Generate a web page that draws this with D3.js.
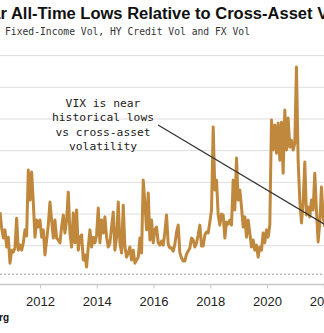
<!DOCTYPE html>
<html>
<head>
<meta charset="utf-8">
<script src="https://cdn.jsdelivr.net/npm/d3@7"></script>
<style>
  html, body { margin: 0; padding: 0; background: #ffffff; overflow: hidden; }
  svg { display: block; }
</style>
</head>
<body>
<script>
// ---------- data ----------
const titleText = "VIX Is Near All-Time Lows Relative to Cross-Asset Volatility";
const subtitleText = "Fixed-Income Vol, HY Credit Vol and FX Vol";
const sourceText = "Source: Bloomberg";
const annotationLines = ["VIX is near", "historical lows", "vs cross-asset", "volatility"];

const tickYears = [2012, 2014, 2016, 2018, 2020, 2022];
const gridValues = [1, 2, 3, 4, 5, 6, 7];
const lowLevel = 0.1;

// sampling of the series (fractional years, ~3-week steps)
const startYear = 2010.59;
const stepYears = 0.0587;

// ratio series
const values = [
  2.06, 1.56, 1.24, 1.50, 0.96, 1.27, 0.45, 0.86, 0.80, 0.93,
  1.87, 0.86, 1.02, 0.86, 1.09, 1.50, 1.31, 3.39, 2.44, 3.33,
  2.35, 1.27, 1.81, 1.59, 1.81, 1.27, 1.50, 0.71, 1.18, 1.65,
  2.38, 1.81, 1.24, 1.81, 1.24, 1.18, 1.09, 1.59, 1.97, 1.40,
  1.81, 2.69, 1.40, 0.96, 2.03, 1.09, 2.13, 0.86, 1.27, 1.34,
  0.55, 0.71, 0.33, 0.96, 1.50, 0.96, 1.27, 1.09, 1.34, 2.19,
  1.09, 1.81, 1.40, 1.91, 1.27, 0.96, 1.09, 1.59, 2.06, 0.86,
  1.27, 2.38, 1.09, 0.77, 2.28, 0.96, 0.64, 0.77, 0.96, 0.55,
  0.86, 0.45, 0.55, 0.64, 1.24, 0.77, 3.07, 2.35, 1.50, 2.66,
  1.18, 1.81, 1.09, 1.50, 1.59, 1.09, 1.02, 1.15, 1.02, 1.43,
  1.97, 1.05, 0.93, 0.93, 0.83, 1.05, 1.43, 1.65, 0.77, 0.61,
  0.52, 0.52, 0.74, 0.83, 0.93, 1.24, 1.18, 0.96, 1.09, 1.34,
  1.65, 0.99, 0.99, 1.34, 1.43, 1.40, 1.75, 2.13, 4.75, 2.76,
  3.07, 1.97, 1.65, 2.00, 1.97, 1.24, 1.75, 1.68, 1.81, 1.65,
  3.07, 2.13, 3.77, 2.44, 2.76, 2.22, 1.59, 1.91, 1.27, 1.81,
  1.40, 0.96, 1.18, 0.86, 1.02, 0.64, 0.96, 0.86, 1.40, 1.09,
  1.50, 1.27, 1.65, 4.97, 4.02, 4.81, 3.92, 4.87, 3.70, 4.90,
  3.29, 5.28, 4.02, 5.03, 4.11, 4.33, 4.02, 4.24, 6.64, 3.70,
  2.44, 1.72, 2.35, 3.64, 1.97, 2.22, 1.91, 2.44, 2.13, 3.29,
  2.13, 1.12, 1.72, 2.85, 1.91, 1.59
];
const dates = values.map((v, i) => startYear + i * stepYears);

// annotation pointer (year, value)
const pointerFrom = [2016.16, 4.81];
const pointerTo = [2022.25, 1.56];

// ---------- chart ----------
const W = 324, H = 333;
const svg = d3.select("body").append("svg").attr("width", W).attr("height", H);
svg.append("rect").attr("width", W).attr("height", H).attr("fill", "#fff");

const x = d3.scaleLinear().domain([2012, 2020]).range([40, 267]);
const y = d3.scaleLinear().domain([0, 7]).range([277.4, 55.6]);

// gridlines
svg.append("g").selectAll("line").data(gridValues).join("line")
  .attr("x1", 0).attr("x2", W)
  .attr("y1", d => y(d)).attr("y2", d => y(d))
  .attr("stroke", "#dedede").attr("stroke-width", 1);

// dotted low line
svg.append("line")
  .attr("x1", 0).attr("x2", W)
  .attr("y1", y(lowLevel)).attr("y2", y(lowLevel))
  .attr("stroke", "#9a9a9a").attr("stroke-width", 1)
  .attr("stroke-dasharray", "2,2");

// x axis
const xAxis = d3.axisBottom(x).tickValues(tickYears).tickFormat(d3.format("d")).tickSize(4).tickPadding(8);
const gx = svg.append("g").attr("transform", "translate(0,284.5)").call(xAxis);
gx.select(".domain").remove();
gx.append("line").attr("x1", 0).attr("x2", W).attr("stroke", "#c8c8c8").attr("stroke-width", 1.5);
gx.selectAll(".tick line").attr("stroke", "#c8c8c8");
gx.selectAll(".tick text")
  .attr("font-family", "Liberation Sans, Arial, sans-serif")
  .attr("font-size", 13).attr("fill", "#222");

// series
const line = d3.line().x((d, i) => x(dates[i])).y(d => y(d));
svg.append("path").datum(values)
  .attr("d", line)
  .attr("fill", "none")
  .attr("stroke", "#c0883d")
  .attr("stroke-width", 3)
  .attr("stroke-linejoin", "round");

// annotation pointer
svg.append("line")
  .attr("x1", x(pointerFrom[0])).attr("y1", y(pointerFrom[1]))
  .attr("x2", x(pointerTo[0])).attr("y2", y(pointerTo[1]))
  .attr("stroke", "#333").attr("stroke-width", 1.3);

// annotation text
const ann = svg.append("text")
  .attr("font-family", "DejaVu Sans Mono, monospace")
  .attr("font-size", 11.3).attr("fill", "#222")
  .attr("text-anchor", "middle");
ann.selectAll("tspan").data(annotationLines).join("tspan")
  .attr("x", 103).attr("y", (d, i) => 106.5 + i * 14.5)
  .text(d => d);

// title (left part is cropped off in the reference)
const title = svg.append("text")
  .attr("font-family", "Liberation Sans, Arial, sans-serif")
  .attr("font-weight", "bold").attr("font-size", 16)
  .attr("fill", "#111").attr("y", 18.5).text(titleText);
{
  const node = title.node();
  const a = titleText.indexOf("r All-Time");
  const b = titleText.indexOf("Cross-Asset") + "Cross-Asset".length;
  const w = node.getSubStringLength(a, b - a);
  const fs = 16 * (313 - 0.5) / w;
  title.attr("font-size", fs);
  const pre = node.getSubStringLength(0, a);
  title.attr("x", 0.5 - pre);
}

// subtitle
svg.append("text")
  .attr("font-family", "DejaVu Sans Mono, monospace")
  .attr("font-size", 9.7).attr("fill", "#333")
  .attr("x", 5).attr("y", 35).text(subtitleText);

// source (cropped at left)
svg.append("text")
  .attr("font-family", "Liberation Sans, Arial, sans-serif")
  .attr("font-weight", "bold").attr("font-size", 10)
  .attr("fill", "#111").attr("text-anchor", "end")
  .attr("x", 9).attr("y", 321).text(sourceText);
</script>
</body>
</html>
